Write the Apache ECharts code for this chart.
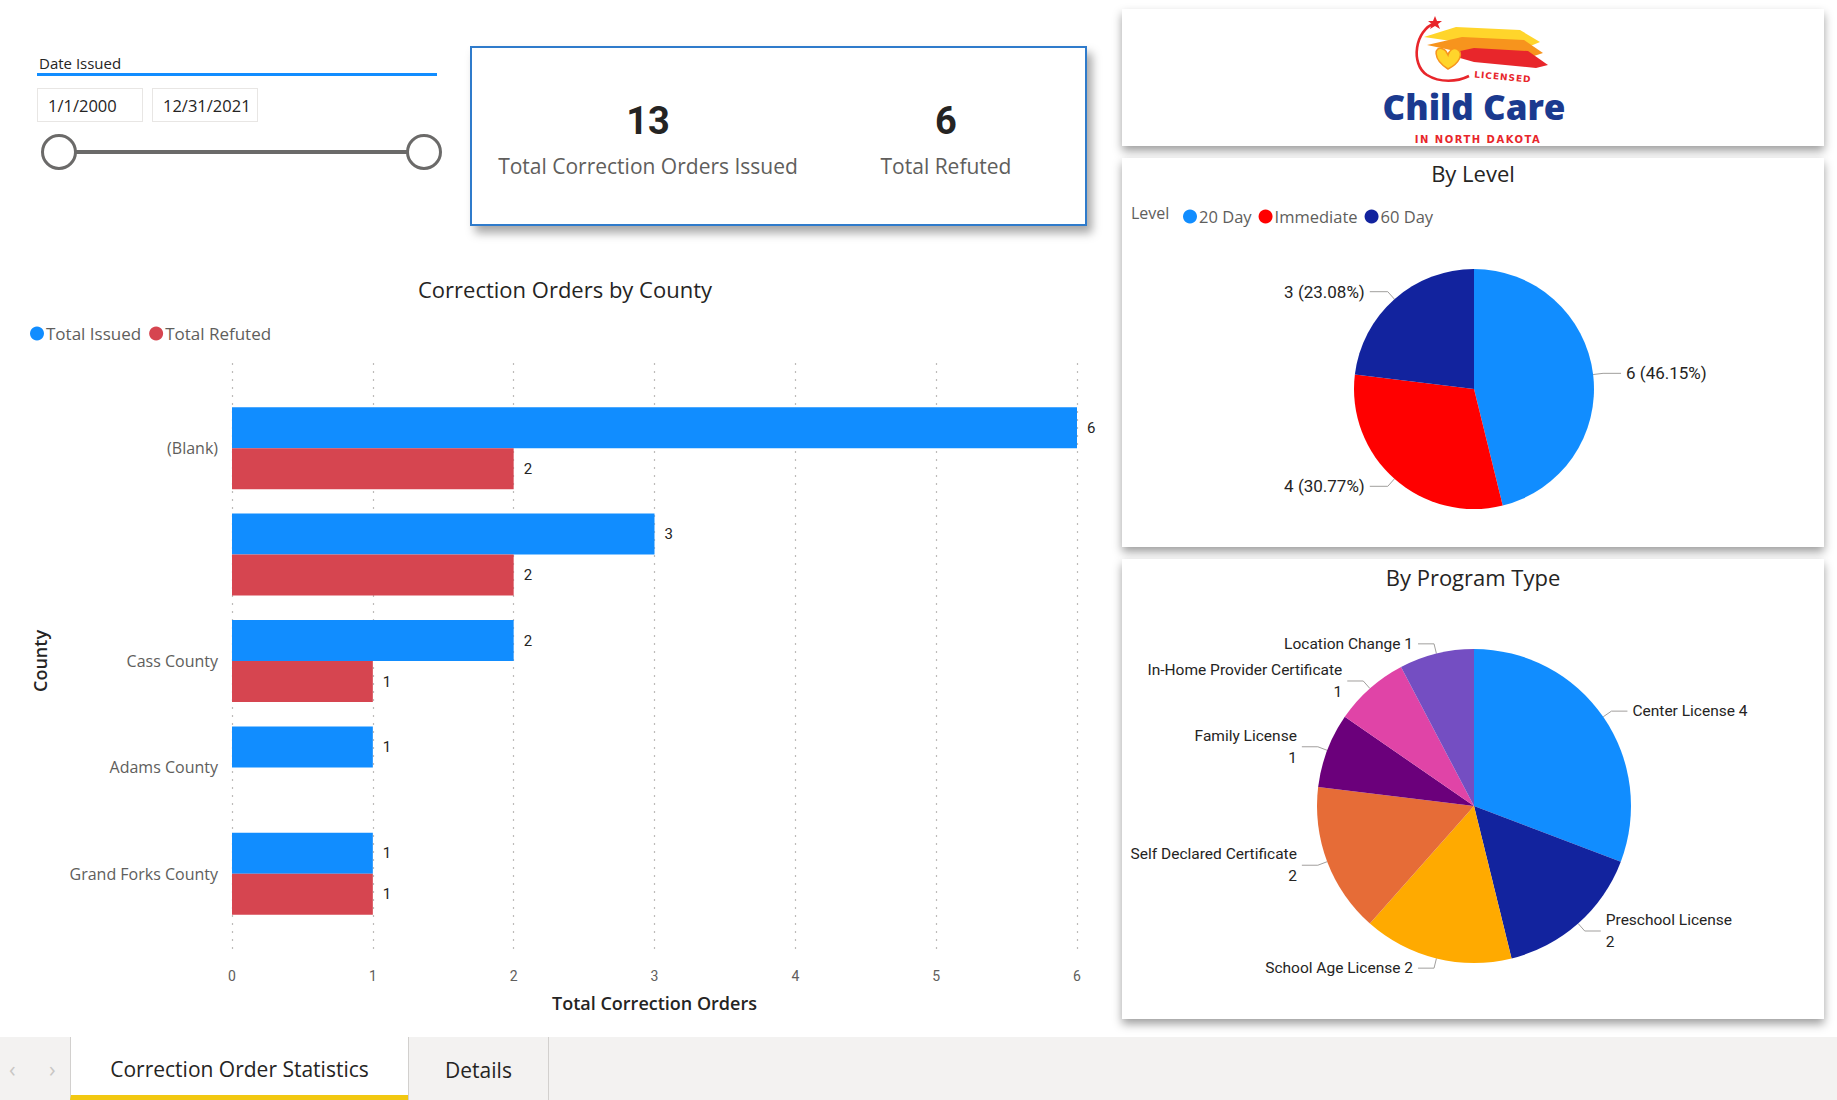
<!DOCTYPE html>
<html>
<head>
<meta charset="utf-8">
<title>Correction Order Statistics</title>
<script src="https://cdn.jsdelivr.net/npm/echarts@6/dist/echarts.min.js"></script>
<style>
  html, body { margin: 0; padding: 0; background: #fff; }
  #page { position: relative; width: 1837px; height: 1100px; overflow: hidden; background: #fff;
          font-family: 'Segoe UI', 'Open Sans', sans-serif; color: #252423; }
  .abs { position: absolute; }
  .panel { position: absolute; background: #fff; box-shadow: 0 5px 9px rgba(0,0,0,0.38); }
  /* slicer */
  #slicerTitle { left: 39px; top: 53px; font-size: 15px; }
  #slicerLine { left: 37px; top: 73px; width: 400px; height: 3px; background: #118DFF; }
  .dateBox { top: 88px; height: 34px; border: 1px solid #E8E6E4; font-size: 16.5px;
             line-height: 34px; padding-left: 10px; box-sizing: border-box; width: 106px; }
  #track { left: 59px; top: 150px; width: 365px; height: 4px; background: #6b6a69; }
  .knob { width: 36px; height: 36px; border-radius: 50%; border: 3px solid #6b6a69; background: #fff;
          box-sizing: border-box; top: 134px; }
  /* kpi card */
  #kpi { left: 470px; top: 46px; width: 617px; height: 180px; border: 2px solid #2F7BCB; box-sizing: border-box;
         background: #fff; box-shadow: 5px 7px 9px rgba(0,0,0,0.35); }
  .kpiVal { width: 300px; margin-left: -150px; text-align: center; font-weight: 700; font-size: 38px;
            top: 51px; font-family: Roboto, 'Open Sans', sans-serif; color: #252423; }
  .kpiLbl { width: 360px; margin-left: -180px; text-align: center; font-size: 21px; top: 104px; color: #605E5C; }
  /* tabs */
  #tabbar { left: 0; top: 1037px; width: 1837px; height: 63px; background: #F3F2F1; }
  .tab { top: 0; height: 63px; text-align: center; font-size: 21px; color: #252423; box-sizing: border-box; }
  #tab1 { left: 70px; width: 338px; background: #fff; border-left: 1px solid #D2D0CE; border-bottom: 5px solid #F2C811; line-height: 64px; }
  #tab2 { left: 408px; width: 141px; border-left: 1px solid #D2D0CE; border-right: 1px solid #D2D0CE; line-height: 66px; }
  .arrow { top: 0; line-height: 62px; font-size: 22px; color: #C8C6C4; }
  .chart { position: absolute; }
</style>
</head>
<body>
<div id="page">
  <!-- date slicer -->
  <div id="slicerTitle" class="abs">Date Issued</div>
  <div id="slicerLine" class="abs"></div>
  <div id="dateFrom" class="abs dateBox" style="left:37px"></div>
  <div id="dateTo" class="abs dateBox" style="left:152px"></div>
  <div id="track" class="abs"></div>
  <div class="abs knob" style="left:41px"></div>
  <div class="abs knob" style="left:406px"></div>

  <!-- card -->
  <div id="kpi" class="abs"></div>

  <!-- bar chart -->
  <div id="countyChart" class="chart" style="left:0;top:260px;width:1130px;height:770px"></div>

  <!-- right side panels -->
  <div class="panel" style="left:1122px;top:9px;width:702px;height:137px">
    <svg width="702" height="137" viewBox="0 0 702 137">
      <path d="M302 28 L334 18 L398 21 L418 33 L406 38 L336 33 Z" fill="#FFD52B"/>
      <path d="M305 36 L340 28 L402 31 L421 44 L409 48 L338 43 Z" fill="#F7941D"/>
      <path d="M324 45 L352 39 L406 42 L426 56 L414 59 L352 53 Z" fill="#E8262B"/>
      <path d="M326 60 C310 50 312 36 321 40 C324 41 325 44 326 46 C327 42 331 38 335 40 C342 44 338 54 326 60 Z" fill="#FFD52B" stroke="#F7941D" stroke-width="1.5"/>
      <path d="M313 14 C293 21 288 55 305 66 C318 74 335 73 347 67" fill="none" stroke="#E8262B" stroke-width="2.6"/>
      <path d="M313 7 L315 12 L320 12 L316 15 L318 20 L313 17 L308 20 L310 15 L306 12 L311 12 Z" fill="#E8262B"/>
      <text x="381" y="71" text-anchor="middle" font-family="DejaVu Sans, sans-serif" font-weight="bold" font-size="9"
            fill="#E8262B" letter-spacing="1" transform="rotate(5 381 67)">LICENSED</text>
      <text x="352" y="111" text-anchor="middle" font-family="'Open Sans', sans-serif" font-weight="800" font-size="35"
            fill="#1B3A8F">Child Care</text>
      <text x="356" y="134" text-anchor="middle" font-family="DejaVu Sans, sans-serif" font-weight="bold" font-size="10"
            fill="#E8262B" letter-spacing="1.5">IN NORTH DAKOTA</text>
    </svg>
  </div>
  <div class="panel" style="left:1122px;top:158px;width:702px;height:389px">
    <div id="levelChart" class="chart" style="left:0;top:0;width:702px;height:389px"></div>
  </div>
  <div class="panel" style="left:1122px;top:559px;width:702px;height:460px">
    <div id="programChart" class="chart" style="left:0;top:0;width:702px;height:460px"></div>
  </div>

  <!-- page tabs -->
  <div id="tabbar" class="abs">
    <div class="abs arrow" style="left:9px">&#8249;</div>
    <div class="abs arrow" style="left:49px">&#8250;</div>
    <div id="tab1" class="abs tab">Correction Order Statistics</div>
    <div id="tab2" class="abs tab">Details</div>
  </div>
</div>

<script>
// data
const dateRange = ['1/1/2000', '12/31/2021']
const kpiValues = [13, 6]
const kpiLabels = ['Total Correction Orders Issued', 'Total Refuted']

const counties = ['(Blank)', '', 'Cass County', 'Adams County', 'Grand Forks County']
const totalIssued = [6, 3, 2, 1, 1]
const totalRefuted = [2, 2, 1, null, 1]
const xTicksMax = 6

const levelNames = ['20 Day', 'Immediate', '60 Day']
const levelCounts = [6, 4, 3]

const programNames = ['Center License', 'Preschool License', 'School Age License', 'Self Declared Certificate',
  'Family License', 'In-Home Provider Certificate', 'Location Change']
const programCounts = [4, 2, 2, 2, 1, 1, 1]

const FONT = "'Segoe UI', 'Open Sans', sans-serif"
const NUM_FONT = "Roboto, 'Open Sans', sans-serif"

// slicer + card
document.getElementById('dateFrom').textContent = dateRange[0]
document.getElementById('dateTo').textContent = dateRange[1]
const kpi = document.getElementById('kpi')
const kpiCenters = [176, 474]
kpiValues.forEach(function (v, i) {
  const val = document.createElement('div')
  val.className = 'abs kpiVal'
  val.style.left = kpiCenters[i] + 'px'
  val.textContent = v
  kpi.appendChild(val)
  const lbl = document.createElement('div')
  lbl.className = 'abs kpiLbl'
  lbl.style.left = kpiCenters[i] + 'px'
  lbl.textContent = kpiLabels[i]
  kpi.appendChild(lbl)
})

// bar chart
const countyChart = echarts.init(document.getElementById('countyChart'), null, { renderer: 'svg' })
countyChart.setOption({
  animation: false,
  textStyle: { fontFamily: FONT },
  title: {
    text: 'Correction Orders by County',
    left: 'center', top: 18, padding: 0,
    textStyle: { fontSize: 22, fontWeight: 'normal', color: '#252423', fontFamily: FONT }
  },
  legend: {
    left: 25, top: 60, icon: 'circle', itemWidth: 14, itemHeight: 14, itemGap: 8,
    textStyle: { fontSize: 17, color: '#605E5C', padding: [0, 0, 0, -3] },
    data: ['Total Issued', 'Total Refuted']
  },
  grid: [
    { left: 232, right: 53, top: 135, height: 532 },
    // only for the dotted gridlines, they run past the bars
    { left: 232, right: 53, top: 103, height: 592 }
  ],
  xAxis: [
    { type: 'value', gridIndex: 0, min: 0, max: xTicksMax, interval: 1, show: false },
    {
      type: 'value', gridIndex: 1, min: 0, max: xTicksMax, interval: 1,
      axisLine: { show: false }, axisTick: { show: false },
      splitLine: { show: true, lineStyle: { color: '#BDBBB9', type: [2, 6], width: 1.2 } },
      axisLabel: { color: '#605E5C', fontSize: 14, fontFamily: NUM_FONT, margin: 14 },
      name: 'Total Correction Orders', nameLocation: 'middle', nameGap: 39,
      nameTextStyle: { fontSize: 18, color: '#252423', fontFamily: FONT, fontWeight: 600 }
    }
  ],
  yAxis: [
    {
      type: 'category', gridIndex: 0, data: counties, inverse: true,
      axisLine: { show: false }, axisTick: { show: false }, splitLine: { show: false },
      axisLabel: { color: '#605E5C', fontSize: 16, margin: 14 },
      name: 'County', nameLocation: 'middle', nameGap: 183, nameRotate: 90,
      nameTextStyle: { fontSize: 18, color: '#252423', fontFamily: FONT, fontWeight: 600 }
    },
    { type: 'category', gridIndex: 1, data: counties, show: false }
  ],
  series: [
    {
      name: 'Total Issued', type: 'bar', xAxisIndex: 0, yAxisIndex: 0,
      data: totalIssued, barWidth: 41, barGap: '0%',
      itemStyle: { color: '#118DFF' },
      label: { show: true, position: 'right', distance: 10, fontSize: 15, color: '#252423', fontFamily: NUM_FONT }
    },
    {
      name: 'Total Refuted', type: 'bar', xAxisIndex: 0, yAxisIndex: 0,
      data: totalRefuted, barWidth: 41, barGap: '0%',
      itemStyle: { color: '#D64550' },
      label: { show: true, position: 'right', distance: 10, fontSize: 15, color: '#252423', fontFamily: NUM_FONT }
    }
  ]
})

// by level pie
const levelChart = echarts.init(document.getElementById('levelChart'), null, { renderer: 'svg' })
levelChart.setOption({
  animation: false,
  color: ['#118DFF', '#FF0000', '#12239E'],
  textStyle: { fontFamily: FONT },
  title: {
    text: 'By Level', left: 'center', top: 4, padding: 0,
    textStyle: { fontSize: 22, fontWeight: 'normal', color: '#252423', fontFamily: FONT }
  },
  graphic: [{
    type: 'text', left: 9, top: 47,
    style: { text: 'Level', fontSize: 16, fill: '#605E5C', fontFamily: FONT }
  }],
  legend: {
    left: 56, top: 45, icon: 'circle', itemWidth: 14, itemHeight: 14, itemGap: 7,
    textStyle: { fontSize: 16.5, color: '#605E5C', padding: [0, 0, 0, -3] },
    data: levelNames
  },
  series: [{
    type: 'pie', center: [352, 231], radius: 120, startAngle: 90, clockwise: true,
    data: levelNames.map(function (n, i) { return { name: n, value: levelCounts[i] } }),
    label: { formatter: '{c} ({d}%)', fontSize: 17, color: '#252423', fontFamily: NUM_FONT, overflow: 'none' },
    labelLine: { length: 10, length2: 18, lineStyle: { color: '#A19F9D', width: 1 } },
    itemStyle: { borderWidth: 0 },
    emphasis: { disabled: true }
  }]
})

// by program type pie
const wrapNames = ['Preschool License', 'Self Declared Certificate', 'Family License', 'In-Home Provider Certificate']
const programChart = echarts.init(document.getElementById('programChart'), null, { renderer: 'svg' })
programChart.setOption({
  animation: false,
  color: ['#118DFF', '#12239E', '#FFAA00', '#E66C37', '#6B007B', '#E044A7', '#744EC2'],
  textStyle: { fontFamily: FONT },
  title: {
    text: 'By Program Type', left: 'center', top: 7, padding: 0,
    textStyle: { fontSize: 22, fontWeight: 'normal', color: '#252423', fontFamily: FONT }
  },
  series: [{
    type: 'pie', center: [352, 247], radius: 157, startAngle: 90, clockwise: true,
    data: programNames.map(function (n, i) { return { name: n, value: programCounts[i] } }),
    label: {
      formatter: function (p) {
        return wrapNames.indexOf(p.name) >= 0 ? p.name + '\n' + p.value : p.name + ' ' + p.value
      },
      fontSize: 15.5, lineHeight: 22, color: '#252423', fontFamily: NUM_FONT, overflow: 'none'
    },
    labelLine: { length: 10, length2: 16, lineStyle: { color: '#A19F9D', width: 1 } },
    itemStyle: { borderWidth: 0 },
    emphasis: { disabled: true }
  }]
})
</script>
</body>
</html>
